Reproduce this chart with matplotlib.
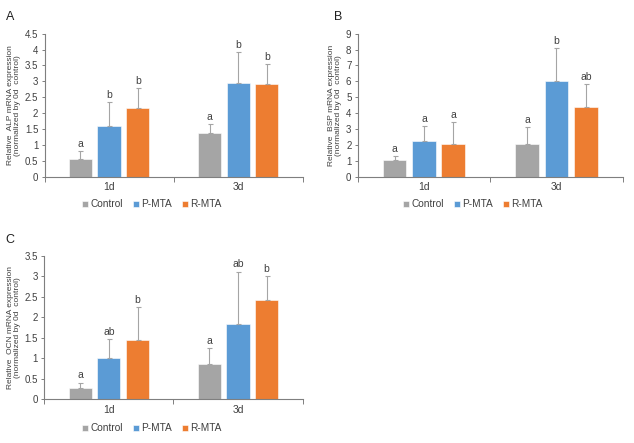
import matplotlib.pyplot as plt
import numpy as np

plt.rcParams['font.family'] = ['Liberation Sans', 'DejaVu Sans']

days = ['1d', '3d']
groups = ['Control', 'P-MTA', 'R-MTA']
colors = ['#A5A5A5', '#5B9BD5', '#ED7D31']

# means per group: [1d, 3d]
alp_mean = [[0.55, 1.36], [1.60, 2.96], [2.16, 2.93]]
alp_err = [[0.27, 0.30], [0.75, 0.95], [0.64, 0.61]]
alp_sig = [['a', 'a'], ['b', 'b'], ['b', 'b']]

bsp_mean = [[1.03, 2.08], [2.22, 6.02], [2.06, 4.36]]
bsp_err = [[0.27, 1.07], [0.97, 2.07], [1.40, 1.46]]
bsp_sig = [['a', 'a'], ['a', 'b'], ['a', 'ab']]

ocn_mean = [[0.27, 0.86], [1.00, 1.84], [1.45, 2.43]]
ocn_err = [[0.14, 0.40], [0.47, 1.28], [0.81, 0.59]]
ocn_sig = [['a', 'a'], ['ab', 'ab'], ['b', 'b']]

txt = '#404040'
axc = '#7F7F7F'


def panel(ax, means, errs, sigs, ymax, ystep, gene, letter_xy, letter):
    x = np.array([0.5, 1.5])
    w = 0.18
    off = 0.222
    for i in range(3):
        pos = x + (i - 1) * off
        m = np.array(means[i])
        e = np.array(errs[i])
        ax.bar(pos, m, width=w, color=colors[i], edgecolor='white', linewidth=0.4,
               label=groups[i], zorder=2)
        ax.errorbar(pos, m, yerr=[np.zeros(2), e], fmt='none', ecolor='#A5A5A5',
                    elinewidth=0.8, capsize=1.8, capthick=0.8, zorder=3)
        for j in range(2):
            ax.text(pos[j], m[j] + e[j] + ymax * 0.015, sigs[i][j], ha='center',
                    va='bottom', fontsize=7.5, color=txt)
    ax.set_xlim(0, 2)
    ax.set_ylim(0, ymax)
    yt = np.arange(0, ymax + ystep / 2, ystep)
    ax.set_yticks(yt)
    ax.set_yticklabels(['%g' % v for v in yt])
    ax.set_xticks(x)
    ax.set_xticklabels(days)
    ax.set_xticks([0, 1, 2], minor=True)
    ax.tick_params(axis='x', which='major', length=0, pad=4, labelsize=7.5, labelcolor=txt)
    ax.tick_params(axis='x', which='minor', length=3.5, color=axc, width=0.7, direction='out')
    ax.tick_params(axis='y', length=2.5, color=axc, width=0.7, labelsize=7, labelcolor=txt, pad=2)
    for s in ['top', 'right']:
        ax.spines[s].set_visible(False)
    for s in ['left', 'bottom']:
        ax.spines[s].set_color(axc)
        ax.spines[s].set_linewidth(0.8)
    ax.set_ylabel('Relative  %s mRNA expression\n(normalized by 0d  control)' % gene,
                  fontsize=6.0, color=txt, labelpad=3, linespacing=1.0)
    fig.text(letter_xy[0], letter_xy[1], letter, fontsize=9, color='#202020',
             ha='left', va='center')


fig = plt.figure(figsize=(6.34, 4.43), dpi=100)
axA = fig.add_axes([0.0702, 0.6011, 0.4073, 0.3228])
axB = fig.add_axes([0.5642, 0.6011, 0.4180, 0.3228])
axC = fig.add_axes([0.0699, 0.0986, 0.4073, 0.3235])

panel(axA, alp_mean, alp_err, alp_sig, 4.5, 0.5, 'ALP', (0.009, 0.962), 'A')
panel(axB, bsp_mean, bsp_err, bsp_sig, 9, 1, 'BSP', (0.527, 0.962), 'B')
panel(axC, ocn_mean, ocn_err, ocn_sig, 3.5, 0.5, 'OCN', (0.009, 0.458), 'C')

for ax, cx, cy in [(axA, 152 / 634, 0.539), (axB, 473 / 634, 0.539), (axC, 152 / 634, 0.033)]:
    fig.legend(*ax.get_legend_handles_labels(), loc='center', bbox_to_anchor=(cx, cy),
               ncol=3, frameon=False, fontsize=7.3, handlelength=0.55, handleheight=0.55,
               handletextpad=0.25, columnspacing=1.0, labelcolor=txt)

fig.savefig('out.png', dpi=100)
